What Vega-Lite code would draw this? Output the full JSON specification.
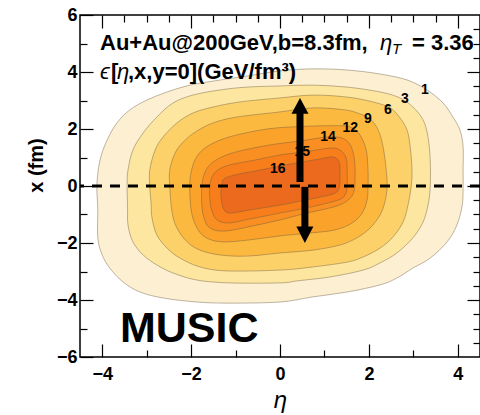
{
  "$schema": "https://vega.github.io/schema/vega-lite/v6.json",
  "width": 400,
  "height": 342,
  "autosize": {"type": "none"},
  "padding": {"left": 80, "top": 15, "right": 0, "bottom": 58},
  "background": "white",
  "config": {
    "view": {"stroke": "black", "strokeWidth": 1.5},
    "font": "Liberation Sans",
    "axis": {
      "grid": false,
      "domain": false,
      "tickColor": "black",
      "tickWidth": 1.2,
      "labelFont": "Liberation Sans",
      "labelFontWeight": "bold",
      "labelFontSize": 18,
      "labelColor": "black",
      "titleColor": "black"
    }
  },
  "datasets": {
    "contours": [
      {"level": "01", "i": 0, "eta": -4.12, "x": 0.04}, {"level": "01", "i": 1, "eta": -4.10, "x": -0.8}, {"level": "01", "i": 2, "eta": -4.10, "x": -1.82}, {"level": "01", "i": 3, "eta": -4.0, "x": -2.42}, {"level": "01", "i": 4, "eta": -3.83, "x": -2.88}, {"level": "01", "i": 5, "eta": -3.53, "x": -3.37}, {"level": "01", "i": 6, "eta": -3.15, "x": -3.72}, {"level": "01", "i": 7, "eta": -2.63, "x": -3.93}, {"level": "01", "i": 8, "eta": -1.87, "x": -4.07}, {"level": "01", "i": 9, "eta": -1.13, "x": -4.11}, {"level": "01", "i": 10, "eta": 0, "x": -4.07}, {"level": "01", "i": 11, "eta": 0.74, "x": -3.89}, {"level": "01", "i": 12, "eta": 1.51, "x": -3.72}, {"level": "01", "i": 13, "eta": 2.25, "x": -3.47}, {"level": "01", "i": 14, "eta": 2.63, "x": -3.23}, {"level": "01", "i": 15, "eta": 2.99, "x": -2.88}, {"level": "01", "i": 16, "eta": 3.38, "x": -2.53}, {"level": "01", "i": 17, "eta": 3.76, "x": -1.96}, {"level": "01", "i": 18, "eta": 3.98, "x": -1.37}, {"level": "01", "i": 19, "eta": 4.10, "x": -0.67}, {"level": "01", "i": 20, "eta": 4.12, "x": -0.04}, {"level": "01", "i": 21, "eta": 4.12, "x": 0.56}, {"level": "01", "i": 22, "eta": 4.12, "x": 1.37}, {"level": "01", "i": 23, "eta": 4.05, "x": 1.96}, {"level": "01", "i": 24, "eta": 3.89, "x": 2.42}, {"level": "01", "i": 25, "eta": 3.67, "x": 2.91}, {"level": "01", "i": 26, "eta": 3.31, "x": 3.37}, {"level": "01", "i": 27, "eta": 2.86, "x": 3.72}, {"level": "01", "i": 28, "eta": 2.25, "x": 3.93}, {"level": "01", "i": 29, "eta": 1.51, "x": 4.07}, {"level": "01", "i": 30, "eta": 0.74, "x": 4.11}, {"level": "01", "i": 31, "eta": 0, "x": 4.04}, {"level": "01", "i": 32, "eta": -0.74, "x": 3.86}, {"level": "01", "i": 33, "eta": -1.51, "x": 3.68}, {"level": "01", "i": 34, "eta": -2.03, "x": 3.54}, {"level": "01", "i": 35, "eta": -2.54, "x": 3.30}, {"level": "01", "i": 36, "eta": -2.99, "x": 3.02}, {"level": "01", "i": 37, "eta": -3.38, "x": 2.67}, {"level": "01", "i": 38, "eta": -3.67, "x": 2.21}, {"level": "01", "i": 39, "eta": -3.89, "x": 1.61}, {"level": "01", "i": 40, "eta": -4.05, "x": 0.91},

      {"level": "03", "i": 0, "eta": -3.44, "x": 0.04}, {"level": "03", "i": 1, "eta": -3.43, "x": -0.7}, {"level": "03", "i": 2, "eta": -3.42, "x": -1.37}, {"level": "03", "i": 3, "eta": -3.31, "x": -1.96}, {"level": "03", "i": 4, "eta": -3.08, "x": -2.42}, {"level": "03", "i": 5, "eta": -2.77, "x": -2.77}, {"level": "03", "i": 6, "eta": -2.41, "x": -3.05}, {"level": "03", "i": 7, "eta": -1.87, "x": -3.30}, {"level": "03", "i": 8, "eta": -1.13, "x": -3.40}, {"level": "03", "i": 9, "eta": 0, "x": -3.40}, {"level": "03", "i": 10, "eta": 0.38, "x": -3.33}, {"level": "03", "i": 11, "eta": 1.13, "x": -3.19}, {"level": "03", "i": 12, "eta": 1.87, "x": -2.95}, {"level": "03", "i": 13, "eta": 2.25, "x": -2.70}, {"level": "03", "i": 14, "eta": 2.63, "x": -2.35}, {"level": "03", "i": 15, "eta": 2.99, "x": -1.82}, {"level": "03", "i": 16, "eta": 3.22, "x": -1.26}, {"level": "03", "i": 17, "eta": 3.33, "x": -0.67}, {"level": "03", "i": 18, "eta": 3.38, "x": -0.04}, {"level": "03", "i": 19, "eta": 3.38, "x": 0.91}, {"level": "03", "i": 20, "eta": 3.33, "x": 1.72}, {"level": "03", "i": 21, "eta": 3.22, "x": 2.32}, {"level": "03", "i": 22, "eta": 2.99, "x": 2.77}, {"level": "03", "i": 23, "eta": 2.70, "x": 3.09}, {"level": "03", "i": 24, "eta": 2.25, "x": 3.30}, {"level": "03", "i": 25, "eta": 1.51, "x": 3.47}, {"level": "03", "i": 26, "eta": 0.74, "x": 3.54}, {"level": "03", "i": 27, "eta": 0, "x": 3.51}, {"level": "03", "i": 28, "eta": -0.74, "x": 3.47}, {"level": "03", "i": 29, "eta": -1.35, "x": 3.37}, {"level": "03", "i": 30, "eta": -1.96, "x": 3.19}, {"level": "03", "i": 31, "eta": -2.41, "x": 2.91}, {"level": "03", "i": 32, "eta": -2.77, "x": 2.42}, {"level": "03", "i": 33, "eta": -3.08, "x": 1.86}, {"level": "03", "i": 34, "eta": -3.31, "x": 1.26}, {"level": "03", "i": 35, "eta": -3.42, "x": 0.56},

      {"level": "06", "i": 0, "eta": -2.93, "x": -0.04}, {"level": "06", "i": 1, "eta": -2.90, "x": -0.6}, {"level": "06", "i": 2, "eta": -2.88, "x": -1.12}, {"level": "06", "i": 3, "eta": -2.77, "x": -1.72}, {"level": "06", "i": 4, "eta": -2.54, "x": -2.18}, {"level": "06", "i": 5, "eta": -2.25, "x": -2.53}, {"level": "06", "i": 6, "eta": -1.80, "x": -2.84}, {"level": "06", "i": 7, "eta": -1.19, "x": -2.98}, {"level": "06", "i": 8, "eta": 0, "x": -2.95}, {"level": "06", "i": 9, "eta": 0.74, "x": -2.84}, {"level": "06", "i": 10, "eta": 1.51, "x": -2.67}, {"level": "06", "i": 11, "eta": 1.87, "x": -2.49}, {"level": "06", "i": 12, "eta": 2.25, "x": -2.18}, {"level": "06", "i": 13, "eta": 2.54, "x": -1.79}, {"level": "06", "i": 14, "eta": 2.77, "x": -1.26}, {"level": "06", "i": 15, "eta": 2.88, "x": -0.67}, {"level": "06", "i": 16, "eta": 2.95, "x": -0.04}, {"level": "06", "i": 17, "eta": 2.97, "x": 0.56}, {"level": "06", "i": 18, "eta": 2.93, "x": 1.37}, {"level": "06", "i": 19, "eta": 2.86, "x": 1.96}, {"level": "06", "i": 20, "eta": 2.70, "x": 2.39}, {"level": "06", "i": 21, "eta": 2.48, "x": 2.74}, {"level": "06", "i": 22, "eta": 2.09, "x": 2.95}, {"level": "06", "i": 23, "eta": 1.51, "x": 3.12}, {"level": "06", "i": 24, "eta": 0.74, "x": 3.19}, {"level": "06", "i": 25, "eta": 0, "x": 3.09}, {"level": "06", "i": 26, "eta": -0.90, "x": 2.95}, {"level": "06", "i": 27, "eta": -1.51, "x": 2.77}, {"level": "06", "i": 28, "eta": -1.96, "x": 2.56}, {"level": "06", "i": 29, "eta": -2.32, "x": 2.21}, {"level": "06", "i": 30, "eta": -2.63, "x": 1.72}, {"level": "06", "i": 31, "eta": -2.81, "x": 1.26}, {"level": "06", "i": 32, "eta": -2.93, "x": 0.56},

      {"level": "09", "i": 0, "eta": -2.48, "x": -0.04}, {"level": "09", "i": 1, "eta": -2.43, "x": -0.91}, {"level": "09", "i": 2, "eta": -2.32, "x": -1.47}, {"level": "09", "i": 3, "eta": -2.09, "x": -1.96}, {"level": "09", "i": 4, "eta": -1.80, "x": -2.25}, {"level": "09", "i": 5, "eta": -1.35, "x": -2.42}, {"level": "09", "i": 6, "eta": -0.74, "x": -2.46}, {"level": "09", "i": 7, "eta": 0, "x": -2.35}, {"level": "09", "i": 8, "eta": 0.74, "x": -2.25}, {"level": "09", "i": 9, "eta": 1.35, "x": -2.07}, {"level": "09", "i": 10, "eta": 1.73, "x": -1.82}, {"level": "09", "i": 11, "eta": 2.03, "x": -1.47}, {"level": "09", "i": 12, "eta": 2.25, "x": -1.02}, {"level": "09", "i": 13, "eta": 2.36, "x": -0.56}, {"level": "09", "i": 14, "eta": 2.41, "x": -0.04}, {"level": "09", "i": 15, "eta": 2.39, "x": 0.56}, {"level": "09", "i": 16, "eta": 2.32, "x": 1.37}, {"level": "09", "i": 17, "eta": 2.21, "x": 1.96}, {"level": "09", "i": 18, "eta": 2.03, "x": 2.35}, {"level": "09", "i": 19, "eta": 1.80, "x": 2.53}, {"level": "09", "i": 20, "eta": 1.46, "x": 2.67}, {"level": "09", "i": 21, "eta": 0.74, "x": 2.74}, {"level": "09", "i": 22, "eta": 0, "x": 2.60}, {"level": "09", "i": 23, "eta": -0.97, "x": 2.42}, {"level": "09", "i": 24, "eta": -1.51, "x": 2.21}, {"level": "09", "i": 25, "eta": -1.91, "x": 1.89}, {"level": "09", "i": 26, "eta": -2.18, "x": 1.54}, {"level": "09", "i": 27, "eta": -2.36, "x": 1.16}, {"level": "09", "i": 28, "eta": -2.48, "x": 0.56},

      {"level": "12", "i": 0, "eta": -2.03, "x": -0.04}, {"level": "12", "i": 1, "eta": -2.00, "x": -0.84}, {"level": "12", "i": 2, "eta": -1.89, "x": -1.40}, {"level": "12", "i": 3, "eta": -1.69, "x": -1.79}, {"level": "12", "i": 4, "eta": -1.31, "x": -1.96}, {"level": "12", "i": 5, "eta": -0.68, "x": -1.89}, {"level": "12", "i": 6, "eta": 0, "x": -1.75}, {"level": "12", "i": 7, "eta": 0.68, "x": -1.65}, {"level": "12", "i": 8, "eta": 1.24, "x": -1.54}, {"level": "12", "i": 9, "eta": 1.62, "x": -1.30}, {"level": "12", "i": 10, "eta": 1.85, "x": -0.95}, {"level": "12", "i": 11, "eta": 1.96, "x": -0.49}, {"level": "12", "i": 12, "eta": 1.98, "x": -0.04}, {"level": "12", "i": 13, "eta": 1.98, "x": 0.56}, {"level": "12", "i": 14, "eta": 1.94, "x": 1.26}, {"level": "12", "i": 15, "eta": 1.80, "x": 1.79}, {"level": "12", "i": 16, "eta": 1.62, "x": 2.04}, {"level": "12", "i": 17, "eta": 1.42, "x": 2.11}, {"level": "12", "i": 18, "eta": 0.90, "x": 2.11}, {"level": "12", "i": 19, "eta": 0.23, "x": 2.07}, {"level": "12", "i": 20, "eta": -0.29, "x": 2.00}, {"level": "12", "i": 21, "eta": -0.90, "x": 1.82}, {"level": "12", "i": 22, "eta": -1.35, "x": 1.61}, {"level": "12", "i": 23, "eta": -1.69, "x": 1.33}, {"level": "12", "i": 24, "eta": -1.89, "x": 0.98}, {"level": "12", "i": 25, "eta": -2.00, "x": 0.49},

      {"level": "14", "i": 0, "eta": -1.76, "x": -0.04}, {"level": "14", "i": 1, "eta": -1.76, "x": -0.67}, {"level": "14", "i": 2, "eta": -1.71, "x": -1.12}, {"level": "14", "i": 3, "eta": -1.58, "x": -1.47}, {"level": "14", "i": 4, "eta": -1.24, "x": -1.58}, {"level": "14", "i": 5, "eta": -0.61, "x": -1.40}, {"level": "14", "i": 6, "eta": 0, "x": -1.19}, {"level": "14", "i": 7, "eta": 0.52, "x": -0.98}, {"level": "14", "i": 8, "eta": 1.28, "x": -0.70}, {"level": "14", "i": 9, "eta": 1.58, "x": -0.42}, {"level": "14", "i": 10, "eta": 1.67, "x": -0.14}, {"level": "14", "i": 11, "eta": 1.69, "x": 0.39}, {"level": "14", "i": 12, "eta": 1.67, "x": 0.98}, {"level": "14", "i": 13, "eta": 1.58, "x": 1.44}, {"level": "14", "i": 14, "eta": 1.40, "x": 1.68}, {"level": "14", "i": 15, "eta": 1.06, "x": 1.72}, {"level": "14", "i": 16, "eta": 0.45, "x": 1.58}, {"level": "14", "i": 17, "eta": -0.23, "x": 1.44}, {"level": "14", "i": 18, "eta": -0.90, "x": 1.23}, {"level": "14", "i": 19, "eta": -1.31, "x": 1.02}, {"level": "14", "i": 20, "eta": -1.58, "x": 0.74}, {"level": "14", "i": 21, "eta": -1.71, "x": 0.39},

      {"level": "15", "i": 0, "eta": -1.58, "x": -0.04}, {"level": "15", "i": 1, "eta": -1.58, "x": -0.39}, {"level": "15", "i": 2, "eta": -1.55, "x": -0.77}, {"level": "15", "i": 3, "eta": -1.44, "x": -1.16}, {"level": "15", "i": 4, "eta": -1.17, "x": -1.30}, {"level": "15", "i": 5, "eta": -0.68, "x": -1.16}, {"level": "15", "i": 6, "eta": 0, "x": -0.95}, {"level": "15", "i": 7, "eta": 0.68, "x": -0.74}, {"level": "15", "i": 8, "eta": 1.31, "x": -0.49}, {"level": "15", "i": 9, "eta": 1.46, "x": -0.32}, {"level": "15", "i": 10, "eta": 1.51, "x": -0.04}, {"level": "15", "i": 11, "eta": 1.51, "x": 0.56}, {"level": "15", "i": 12, "eta": 1.49, "x": 0.98}, {"level": "15", "i": 13, "eta": 1.35, "x": 1.26}, {"level": "15", "i": 14, "eta": 1.13, "x": 1.33}, {"level": "15", "i": 15, "eta": 0.52, "x": 1.19}, {"level": "15", "i": 16, "eta": 0, "x": 1.09}, {"level": "15", "i": 17, "eta": -0.56, "x": 0.91}, {"level": "15", "i": 18, "eta": -1.13, "x": 0.74}, {"level": "15", "i": 19, "eta": -1.40, "x": 0.56}, {"level": "15", "i": 20, "eta": -1.53, "x": 0.32},

      {"level": "16", "i": 0, "eta": -1.31, "x": 0.04}, {"level": "16", "i": 1, "eta": -1.33, "x": -0.32}, {"level": "16", "i": 2, "eta": -1.28, "x": -0.77}, {"level": "16", "i": 3, "eta": -1.13, "x": -0.95}, {"level": "16", "i": 4, "eta": -0.68, "x": -0.84}, {"level": "16", "i": 5, "eta": 0, "x": -0.67}, {"level": "16", "i": 6, "eta": 0.68, "x": -0.46}, {"level": "16", "i": 7, "eta": 1.19, "x": -0.28}, {"level": "16", "i": 8, "eta": 1.33, "x": -0.07}, {"level": "16", "i": 9, "eta": 1.35, "x": 0.39}, {"level": "16", "i": 10, "eta": 1.33, "x": 0.84}, {"level": "16", "i": 11, "eta": 1.19, "x": 1.02}, {"level": "16", "i": 12, "eta": 0.90, "x": 0.95}, {"level": "16", "i": 13, "eta": 0.23, "x": 0.77}, {"level": "16", "i": 14, "eta": -0.45, "x": 0.56}, {"level": "16", "i": 15, "eta": -1.01, "x": 0.39}, {"level": "16", "i": 16, "eta": -1.26, "x": 0.25}
    ],
    "levelLabels": [
      {"t": "1", "eta": 3.26, "x": 3.37},
      {"t": "3", "eta": 2.81, "x": 3.05},
      {"t": "6", "eta": 2.43, "x": 2.67},
      {"t": "9", "eta": 1.98, "x": 2.35},
      {"t": "12", "eta": 1.58, "x": 2.04},
      {"t": "14", "eta": 1.08, "x": 1.72},
      {"t": "15", "eta": 0.5, "x": 1.19},
      {"t": "16", "eta": -0.05, "x": 0.6}
    ],
    "shafts": [
      {"eta": 0.45, "x0": 0.14, "x1": 2.62},
      {"eta": 0.56, "x0": -0.03, "x1": -1.5}
    ],
    "heads": [
      {"eta": 0.45, "x": 3.09, "dir": "up"},
      {"eta": 0.56, "x": -2.0, "dir": "down"}
    ],
    "boldText": [
      {"t": "Au+Au@200GeV,b=8.3fm,", "eta": -4.05, "x": 4.77},
      {"t": "= 3.36", "eta": 2.97, "x": 4.77},
      {"t": "[", "eta": -3.8, "x": 3.75},
      {"t": ",x,y=0](GeV/fm³)", "eta": -3.42, "x": 3.75}
    ],
    "italicText": [
      {"t": "η", "eta": 2.25, "x": 4.77},
      {"t": "ϵ", "eta": -4.05, "x": 3.75},
      {"t": "η", "eta": -3.67, "x": 3.75}
    ],
    "subText": [
      {"t": "T", "eta": 2.52, "x": 4.63}
    ],
    "code": [
      {"t": "MUSIC", "eta": -3.6, "x": -5.47}
    ],
    "midline": [
      {"x": 0}
    ]
  },
  "resolve": {"axis": {"x": "independent", "y": "independent"}},
  "layer": [
    {
      "data": {"name": "contours"},
      "mark": {"type": "line", "filled": true, "interpolate": "cardinal-closed", "stroke": "#6b5a3e", "strokeOpacity": 0.55, "strokeWidth": 0.8},
      "encoding": {
        "x": {
          "field": "eta", "type": "quantitative",
          "scale": {"domain": [-4.5, 4.5], "nice": false, "zero": false},
          "axis": {
            "orient": "bottom",
            "values": [-4, -3.5, -3, -2.5, -2, -1.5, -1, -0.5, 0, 0.5, 1, 1.5, 2, 2.5, 3, 3.5, 4],
            "format": "d",
            "labelExpr": "datum.value % 2 === 0 ? datum.label : ''",
            "tickSize": {"condition": {"test": "datum.value % 2 === 0", "value": -13}, "value": -7},
            "labelPadding": 21,
            "title": "η",
            "titleFont": "Liberation Sans",
            "titleFontSize": 24,
            "titleFontWeight": "normal",
            "titleFontStyle": "italic",
            "titleBaseline": "alphabetic",
            "titleY": 50
          }
        },
        "y": {
          "field": "x", "type": "quantitative",
          "scale": {"domain": [-6, 6], "nice": false, "zero": false},
          "axis": {
            "orient": "left",
            "values": [-6, -5.5, -5, -4.5, -4, -3.5, -3, -2.5, -2, -1.5, -1, -0.5, 0, 0.5, 1, 1.5, 2, 2.5, 3, 3.5, 4, 4.5, 5, 5.5, 6],
            "format": "d",
            "labelExpr": "datum.value % 2 === 0 ? datum.label : ''",
            "tickSize": {"condition": {"test": "datum.value % 2 === 0", "value": -13}, "value": -7},
            "labelPadding": 16,
            "title": "x (fm)",
            "titleFont": "Liberation Sans",
            "titleFontSize": 20,
            "titleFontWeight": "bold",
            "titleBaseline": "middle",
            "titleX": -44,
            "titleY": 150
          }
        },
        "order": {"field": "i", "type": "quantitative"},
        "fill": {
          "field": "level", "type": "nominal",
          "scale": {
            "domain": ["01", "03", "06", "09", "12", "14", "15", "16"],
            "range": ["#FCEFD2", "#FDE69F", "#FDD169", "#FCB940", "#FBA22A", "#F98F22", "#F77E1A", "#EB6A1E"]
          },
          "legend": null
        }
      }
    },
    {
      "data": {"name": "midline"},
      "mark": {"type": "rule", "color": "black", "strokeWidth": 3, "strokeDash": [10, 8]},
      "encoding": {
        "y": {"field": "x", "type": "quantitative", "scale": {"domain": [-6, 6], "nice": false, "zero": false}, "axis": null}
      }
    },
    {
      "data": {"name": "shafts"},
      "mark": {"type": "rule", "color": "black", "strokeWidth": 7, "strokeCap": "butt"},
      "encoding": {
        "x": {"field": "eta", "type": "quantitative", "scale": {"domain": [-4.5, 4.5], "nice": false, "zero": false}, "axis": null},
        "y": {"field": "x0", "type": "quantitative", "scale": {"domain": [-6, 6], "nice": false, "zero": false}, "axis": null},
        "y2": {"field": "x1"}
      }
    },
    {
      "data": {"name": "heads"},
      "mark": {"type": "point", "filled": true, "color": "black", "opacity": 1, "size": 289},
      "encoding": {
        "x": {
          "field": "eta", "type": "quantitative",
          "scale": {"domain": [-4.5, 4.5], "nice": false, "zero": false},
          "axis": {
            "orient": "top",
            "values": [-4, -3.5, -3, -2.5, -2, -1.5, -1, -0.5, 0, 0.5, 1, 1.5, 2, 2.5, 3, 3.5, 4],
            "labels": false,
            "tickSize": {"condition": {"test": "datum.value % 2 === 0", "value": -13}, "value": -7},
            "title": null
          }
        },
        "y": {
          "field": "x", "type": "quantitative",
          "scale": {"domain": [-6, 6], "nice": false, "zero": false},
          "axis": {
            "orient": "right",
            "values": [-5.5, -5, -4.5, -4, -3.5, -3, -2.5, -2, -1.5, -1, -0.5, 0, 0.5, 1, 1.5, 2, 2.5, 3, 3.5, 4, 4.5, 5, 5.5],
            "labels": false,
            "tickSize": {"condition": {"test": "datum.value % 2 === 0", "value": -13}, "value": -7},
            "title": null
          }
        },
        "shape": {
          "field": "dir", "type": "nominal",
          "scale": {"domain": ["up", "down"], "range": ["M0,0L-1,1.85L1,1.85Z", "M0,0L-1,-1.95L1,-1.95Z"]},
          "legend": null
        }
      }
    },
    {
      "data": {"name": "levelLabels"},
      "mark": {"type": "text", "font": "Liberation Sans", "fontWeight": "bold", "fontSize": 14, "color": "black", "align": "center", "baseline": "middle"},
      "encoding": {
        "x": {"field": "eta", "type": "quantitative", "scale": {"domain": [-4.5, 4.5], "nice": false, "zero": false}, "axis": null},
        "y": {"field": "x", "type": "quantitative", "scale": {"domain": [-6, 6], "nice": false, "zero": false}, "axis": null},
        "text": {"field": "t"}
      }
    },
    {
      "data": {"name": "boldText"},
      "mark": {"type": "text", "font": "Liberation Sans", "fontWeight": "bold", "fontSize": 22, "color": "black", "align": "left", "baseline": "alphabetic"},
      "encoding": {
        "x": {"field": "eta", "type": "quantitative", "scale": {"domain": [-4.5, 4.5], "nice": false, "zero": false}, "axis": null},
        "y": {"field": "x", "type": "quantitative", "scale": {"domain": [-6, 6], "nice": false, "zero": false}, "axis": null},
        "text": {"field": "t"}
      }
    },
    {
      "data": {"name": "italicText"},
      "mark": {"type": "text", "font": "Liberation Sans", "fontStyle": "italic", "fontSize": 22, "color": "black", "align": "left", "baseline": "alphabetic"},
      "encoding": {
        "x": {"field": "eta", "type": "quantitative", "scale": {"domain": [-4.5, 4.5], "nice": false, "zero": false}, "axis": null},
        "y": {"field": "x", "type": "quantitative", "scale": {"domain": [-6, 6], "nice": false, "zero": false}, "axis": null},
        "text": {"field": "t"}
      }
    },
    {
      "data": {"name": "subText"},
      "mark": {"type": "text", "font": "Liberation Sans", "fontStyle": "italic", "fontSize": 15, "color": "black", "align": "left", "baseline": "alphabetic"},
      "encoding": {
        "x": {"field": "eta", "type": "quantitative", "scale": {"domain": [-4.5, 4.5], "nice": false, "zero": false}, "axis": null},
        "y": {"field": "x", "type": "quantitative", "scale": {"domain": [-6, 6], "nice": false, "zero": false}, "axis": null},
        "text": {"field": "t"}
      }
    },
    {
      "data": {"name": "code"},
      "mark": {"type": "text", "font": "Liberation Sans", "fontWeight": "bold", "fontSize": 43, "color": "black", "align": "left", "baseline": "alphabetic"},
      "encoding": {
        "x": {"field": "eta", "type": "quantitative", "scale": {"domain": [-4.5, 4.5], "nice": false, "zero": false}, "axis": null},
        "y": {"field": "x", "type": "quantitative", "scale": {"domain": [-6, 6], "nice": false, "zero": false}, "axis": null},
        "text": {"field": "t"}
      }
    }
  ]
}
